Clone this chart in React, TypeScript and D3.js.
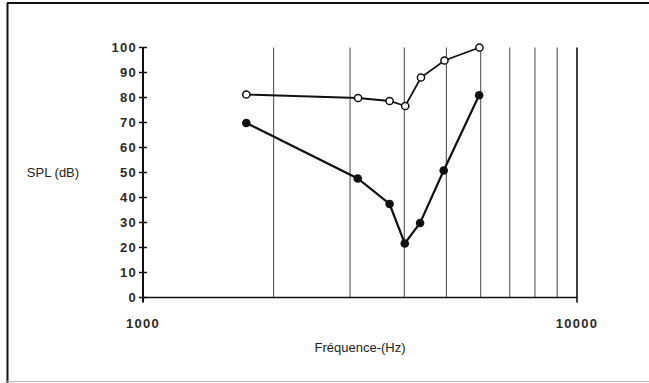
import React from "react";
import * as d3 from "d3";

const openFreq = [1730, 3130, 3700, 4020, 4370, 4950, 5960];
const openSpl = [81.2, 79.8, 78.6, 76.6, 88, 94.8, 100];
const filledFreq = [1730, 3125, 3700, 4010, 4350, 4930, 5950];
const filledSpl = [69.8, 47.6, 37.4, 21.6, 29.8, 50.8, 80.9];
const gridFreqs = [2000, 3000, 4000, 5000, 6000, 7000, 8000, 9000, 10000];
const yTicks = [0, 10, 20, 30, 40, 50, 60, 70, 80, 90, 100];
const xTickLabels = [1000, 10000];
const yLabel = "SPL (dB)";
const xLabel = "Fréquence-(Hz)";

export default function App() {
  const W = 649, H = 383;
  const x = d3.scaleLog().domain([1000, 10000]).range([143, 577]);
  const y = d3.scaleLinear().domain([0, 100]).range([297.5, 47.5]);
  const line = d3.line<[number, number]>().x(d => x(d[0])).y(d => y(d[1]));
  const openPts: [number, number][] = openFreq.map((f, i) => [f, openSpl[i]]);
  const filledPts: [number, number][] = filledFreq.map((f, i) => [f, filledSpl[i]]);
  const font = "'Liberation Sans', Arial, Helvetica, sans-serif";
  return (
    <svg width={W} height={H} style={{ position: "absolute", left: 0, top: 0 }} fontFamily={font}>
      <rect width={W} height={H} fill="#fff" />
      {/* frame */}
      <line x1={7} y1={3} x2={649} y2={3} stroke="#111" strokeWidth={2} />
      <line x1={7.5} y1={3} x2={7.5} y2={383} stroke="#111" strokeWidth={2} />
      <line x1={7} y1={381.5} x2={649} y2={381.5} stroke="#bbb" strokeWidth={1} />
      {/* grid lines */}
      {gridFreqs.map(f => (
        <line key={f} x1={x(f)} x2={x(f)} y1={y(100)} y2={f === 10000 ? y(0) + 5 : y(0)}
          stroke={f === 10000 ? "#111" : "#444"} strokeWidth={f === 10000 ? 1.6 : 1} />
      ))}
      {/* bottom axis */}
      <line x1={x(1000)} x2={x(10000)} y1={y(0)} y2={y(0)} stroke="#111" strokeWidth={1.6} />
      {/* left axis */}
      <line x1={x(1000)} x2={x(1000)} y1={y(100)} y2={y(0) + 5} stroke="#111" strokeWidth={2} />
      {yTicks.map(t => (
        <g key={t}>
          <line x1={x(1000) - 4} x2={x(1000) + 4} y1={y(t)} y2={y(t)} stroke="#111" strokeWidth={1.5} />
          <text x={137} y={y(t)} dy="0.36em" textAnchor="end" fontSize={13} fontWeight="bold"
            letterSpacing={1.3} fill="#2a2a2a">{t}</text>
        </g>
      ))}
      {xTickLabels.map(t => (
        <text key={t} x={x(t)} y={327.5} textAnchor="middle" fontSize={13} fontWeight="bold"
          letterSpacing={1.3} fill="#2a2a2a">{t}</text>
      ))}
      <text x={53} y={172} dy="0.36em" textAnchor="middle" fontSize={13} fill="#222">{yLabel}</text>
      <text x={360} y={347.5} dy="0.36em" textAnchor="middle" fontSize={13} fill="#222">{xLabel}</text>
      {/* series */}
      <path d={line(openPts) || ""} fill="none" stroke="#111" strokeWidth={1.8} />
      <path d={line(filledPts) || ""} fill="none" stroke="#111" strokeWidth={2.2} />
      {openPts.map((p, i) => (
        <circle key={"o" + i} cx={x(p[0])} cy={y(p[1])} r={3.6} fill="#fff" stroke="#111" strokeWidth={1.5} />
      ))}
      {filledPts.map((p, i) => (
        <circle key={"f" + i} cx={x(p[0])} cy={y(p[1])} r={4.3} fill="#111" />
      ))}
    </svg>
  );
}
